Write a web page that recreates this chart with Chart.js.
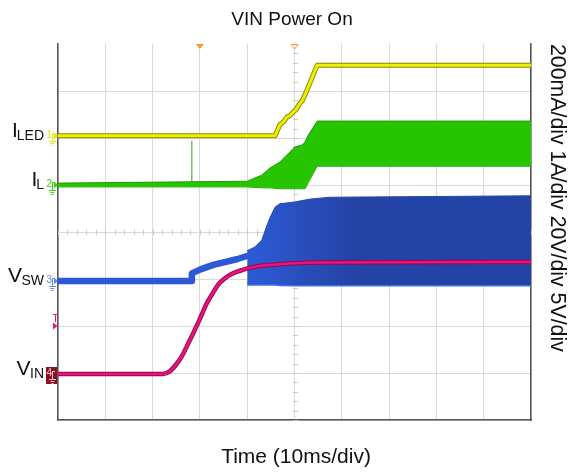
<!DOCTYPE html>
<html>
<head>
<meta charset="utf-8">
<script src="https://cdn.jsdelivr.net/npm/chart.js@4.4.1/dist/chart.umd.min.js"></script>
<style>
  html, body { margin: 0; padding: 0; background: #ffffff; }
  canvas { display: block; }
</style>
</head>
<body>
<canvas id="scope" width="570" height="472"></canvas>
<script>
// Time axis in ms (10 ms/div, 10 divisions); vertical axis in screen divisions (8 div).

// CH1 - LED current (yellow)
const iledTime  = [0, 45.9, 46.9, 47.8, 48.4, 49.0, 49.7, 50.3, 51.0, 51.6, 52.4, 54.8, 100];
const iledLevel = [6.05, 6.05, 6.28, 6.36, 6.45, 6.47, 6.55, 6.60, 6.72, 6.79, 6.96, 7.55, 7.55];

// CH2 - inductor current (green), ripple envelope
const ilTime  = [0, 40.0, 43.1, 44.8, 46.9, 48.4, 50.1, 51.6, 52.2, 52.9, 54.8, 100];
const ilHigh  = [5.04, 5.08, 5.21, 5.36, 5.49, 5.64, 5.81, 5.85, 5.91, 6.06, 6.36, 6.36];
const ilLow   = [4.96, 4.96, 4.94, 4.94, 4.92, 4.92, 4.92, 4.92, 4.92, 5.05, 5.40, 5.40];
// single current spike on CH2
const ilSpikeTime  = [28.3, 28.3];
const ilSpikeLevel = [5.0, 5.94];

// CH3 - switch node voltage (blue): slow rise before switching, then switching envelope
const vswRampTime  = [0, 28.2, 28.3, 30.0, 32.8, 37.8, 40.3];
const vswRampLevel = [2.96, 2.96, 3.12, 3.20, 3.30, 3.42, 3.50];
const vswTime = [40.0, 41.6, 43.1, 44.0, 44.8, 45.9, 46.9, 50.1, 53.3, 57.5, 100];
const vswHigh = [3.60, 3.68, 3.83, 4.09, 4.30, 4.53, 4.60, 4.64, 4.70, 4.74, 4.77];
const vswLow  = [2.89, 2.89, 2.89, 2.89, 2.89, 2.89, 2.88, 2.87, 2.87, 2.87, 2.87];

// CH4 - input voltage (magenta)
const vinTime  = [0, 22.2, 23.7, 24.9, 26.2, 27.5, 28.8, 30.0, 31.3, 32.6, 33.8, 35.1, 36.8, 38.9, 41.6, 44.8, 49.0, 55.4, 100];
const vinLevel = [0.98, 0.98, 1.04, 1.17, 1.36, 1.62, 1.89, 2.15, 2.45, 2.68, 2.87, 3.00, 3.11, 3.19, 3.26, 3.30, 3.33, 3.35, 3.36];

// Markers and labels
const triggerTime = 30;      // filled trigger-position marker
const centerTime = 50;       // hollow marker at screen centre
const triggerLevel = 2.0;    // "T" trigger level marker
const channelLabels = [
  { main: 'I', sub: 'LED', num: '1', color: '#e6e600', level: iledLevel[0] },
  { main: 'I', sub: 'L',   num: '2', color: '#3ad400', level: 5.0 },
  { main: 'V', sub: 'SW',  num: '3', color: '#5b8af0', level: vswRampLevel[0] },
  { main: 'V', sub: 'IN',  num: '4', color: '#8a0f22', level: vinLevel[0] }
];
const titleText = 'VIN Power On';
const timeText = 'Time (10ms/div)';
const scaleText = '200mA/div 1A/div 20V/div 5V/div';

const pts = (xs, ys) => xs.map((x, i) => ({ x: x, y: ys[i] }));
const FONT = '"Liberation Sans", Arial, sans-serif';

function blueBand(ctx) {
  const chart = ctx.chart;
  if (!chart.chartArea) return '#2446aa';
  const xs = chart.scales.x;
  const g = chart.ctx.createLinearGradient(xs.getPixelForValue(40), 0, xs.getPixelForValue(62), 0);
  g.addColorStop(0, '#2d5bd6');
  g.addColorStop(1, '#2443a6');
  return g;
}

const scopeDecor = {
  id: 'scopeDecor',
  beforeDatasetsDraw(chart) {
    const c = chart.ctx, xs = chart.scales.x, ys = chart.scales.y;
    c.save();
    c.strokeStyle = '#c8c8c8';
    c.lineWidth = 1;
    const cx = Math.round(xs.getPixelForValue(centerTime)) + 0.5;
    const cy = Math.round(ys.getPixelForValue(4)) + 0.5;
    c.beginPath();
    for (let t = 0; t <= 100; t += 2) {
      const px = Math.round(xs.getPixelForValue(t)) + 0.5;
      c.moveTo(px, cy - 2.5); c.lineTo(px, cy + 2.5);
    }
    for (let v = 0; v <= 8; v += 0.2) {
      const py = Math.round(ys.getPixelForValue(v)) + 0.5;
      c.moveTo(cx - 2.5, py); c.lineTo(cx + 2.5, py);
    }
    c.stroke();
    c.restore();
  },
  afterDraw(chart) {
    const c = chart.ctx, xs = chart.scales.x, ys = chart.scales.y, area = chart.chartArea;
    c.save();
    // top markers
    const tx = xs.getPixelForValue(triggerTime);
    c.fillStyle = '#f39a2a';
    c.beginPath(); c.moveTo(tx - 4, area.top); c.lineTo(tx + 4, area.top); c.lineTo(tx, area.top + 5); c.closePath(); c.fill();
    const mx = xs.getPixelForValue(centerTime);
    c.strokeStyle = '#f39a2a'; c.lineWidth = 1;
    c.beginPath(); c.moveTo(mx - 3.5, area.top + 0.5); c.lineTo(mx + 3.5, area.top + 0.5); c.lineTo(mx, area.top + 5); c.closePath(); c.stroke();

    // trigger level marker
    const ty = ys.getPixelForValue(triggerLevel);
    c.fillStyle = '#e8167e'; c.strokeStyle = '#e8167e';
    c.beginPath(); c.moveTo(53, ty - 3.5); c.lineTo(57.5, ty); c.lineTo(53, ty + 3.5); c.closePath(); c.fill();
    c.beginPath(); c.moveTo(53, ty - 11.5); c.lineTo(58, ty - 11.5); c.moveTo(55.5, ty - 11.5); c.lineTo(55.5, ty - 4); c.stroke();

    // channel markers and names
    channelLabels.forEach((ch) => {
      const y = Math.round(ys.getPixelForValue(ch.level));
      if (ch.num === '4') {
        c.fillStyle = ch.color;
        c.fillRect(46, y - 7, 11, 17);
        c.fillStyle = '#f0c8d0'; c.strokeStyle = '#f0c8d0';
      } else {
        c.fillStyle = ch.color; c.strokeStyle = ch.color;
      }
      c.font = '10px ' + FONT; c.textAlign = 'left'; c.textBaseline = 'alphabetic';
      c.fillText(ch.num, 46.5, y + 2);
      c.lineWidth = 1;
      c.beginPath();
      c.moveTo(52.5, y - 3); c.lineTo(52.5, y + 5);
      c.moveTo(49, y + 5.5); c.lineTo(56, y + 5.5);
      c.moveTo(50.5, y + 7.5); c.lineTo(54.5, y + 7.5);
      c.moveTo(51.5, y + 9.5); c.lineTo(53.5, y + 9.5);
      c.moveTo(52.5, y - 2.5); c.lineTo(55, y - 2.5);
      c.stroke();
      if (ch.num !== '4') {
        c.beginPath(); c.moveTo(54, y - 3.5); c.lineTo(58, y); c.lineTo(54, y + 3.5); c.closePath(); c.fill();
      }
      // name with subscript, right-aligned against the marker
      c.fillStyle = '#111111';
      c.font = '14px ' + FONT;
      const subW = c.measureText(ch.sub).width;
      const subX = 44 - subW;
      c.fillText(ch.sub, subX, y + 4);
      c.font = '21px ' + FONT;
      const mainW = c.measureText(ch.main).width;
      c.fillText(ch.main, subX - mainW + (ch.main === 'I' ? 1 : 0.5), y + 1);
    });

    // title and axis texts
    c.fillStyle = '#111111';
    c.textAlign = 'center';
    c.font = '19px ' + FONT;
    c.fillText(titleText, 292, 25);
    c.font = '21px ' + FONT;
    c.fillText(timeText, 296, 463);
    c.translate(557, 44);
    c.rotate(Math.PI / 2);
    c.textAlign = 'left';
    c.textBaseline = 'middle';
    c.font = '21.3px ' + FONT;
    c.fillText(scaleText, 0, 0);
    c.restore();
  }
};

new Chart(document.getElementById('scope'), {
  type: 'line',
  data: {
    datasets: [
      { data: pts(vinTime, vinLevel), borderColor: '#e3167e', borderWidth: 2.5, cubicInterpolationMode: 'monotone', order: 0 },
      { data: pts(vinTime, vinLevel), borderColor: '#a3004e', borderWidth: 4.5, cubicInterpolationMode: 'monotone', order: 1 },
      { data: pts(vswTime, vswHigh), borderColor: '#2848b0', borderWidth: 1, backgroundColor: blueBand, fill: '+1', order: 2 },
      { data: pts(vswTime, vswLow), borderColor: '#3f70e6', borderWidth: 3, order: 3 },
      { data: pts(vswRampTime, vswRampLevel), borderColor: '#2c5ad6', borderWidth: 6.5, order: 4 },
      { data: pts(ilTime, ilHigh), borderColor: '#1f9a08', borderWidth: 1, backgroundColor: '#26c500', fill: '+1', order: 5 },
      { data: pts(ilTime, ilLow), borderColor: '#1f9a08', borderWidth: 1, order: 6 },
      { data: pts(ilSpikeTime, ilSpikeLevel), borderColor: '#2fa010', borderWidth: 1, order: 7 },
      { data: pts(iledTime, iledLevel), borderColor: '#eeee00', borderWidth: 3, order: 8 },
      { data: pts(iledTime, iledLevel), borderColor: '#8a8a00', borderWidth: 5, order: 9 }
    ]
  },
  options: {
    responsive: false,
    animation: false,
    devicePixelRatio: 1,
    layout: { padding: { left: 58, top: 44, right: 39, bottom: 52 } },
    elements: { point: { radius: 0 }, line: { tension: 0, borderJoinStyle: 'round', borderCapStyle: 'butt' } },
    plugins: { legend: { display: false }, tooltip: { enabled: false }, title: { display: false } },
    scales: {
      x: {
        type: 'linear', min: 0, max: 100,
        ticks: { display: false, stepSize: 10 },
        grid: { color: '#d9d9d9', drawTicks: false, lineWidth: 1 },
        border: { display: true, color: '#555555', width: 1.5 }
      },
      y: {
        type: 'linear', min: 0, max: 8,
        ticks: { display: false, stepSize: 1 },
        grid: { color: (ctx) => (ctx.tick && ctx.tick.value === 8 ? 'rgba(0,0,0,0)' : '#d9d9d9'), drawTicks: false, lineWidth: 1 },
        border: { display: true, color: '#555555', width: 1.5 }
      },
      y2: {
        type: 'linear', position: 'right', min: 0, max: 8,
        ticks: { display: false },
        grid: { drawOnChartArea: false, drawTicks: false },
        border: { display: true, color: '#555555', width: 1.5 }
      }
    }
  },
  plugins: [scopeDecor]
});
</script>
</body>
</html>
